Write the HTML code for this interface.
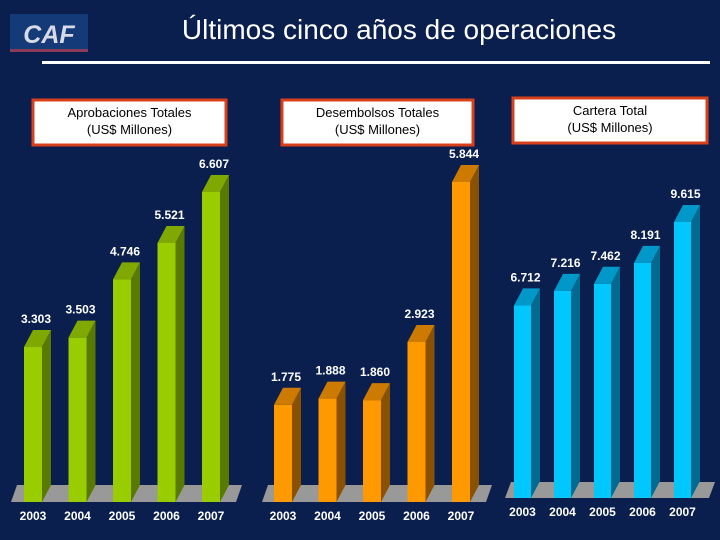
<!DOCTYPE html>
<html><head><meta charset="utf-8"><style>
html,body{margin:0;padding:0;background:#0b1f4f;}
svg{display:block;font-family:"Liberation Sans",sans-serif;}
</style></head><body>
<svg id="s" width="720" height="540" viewBox="0 0 720 540">
<rect x="0" y="0" width="720" height="540" fill="#0b1f4f"/>
<g>
<rect x="10" y="14" width="78" height="36" fill="#143a78"/>
<rect x="10" y="49" width="78" height="3" fill="#8a3a5a"/>
<text x="49" y="43" text-anchor="middle" font-size="25" font-weight="bold" font-style="italic" fill="#d8dbe6">CAF</text>
</g>
<text x="399" y="39" text-anchor="middle" font-size="28" fill="#ffffff">Últimos cinco años de operaciones</text>
<rect x="42" y="61" width="668" height="3" fill="#ffffff"/>
<g id="charts"></g>
</svg>
<script>
const years = ["2003","2004","2005","2006","2007"];
const aprobaciones = [3303,3503,4746,5521,6607];
const desembolsos = [1775,1888,1860,2923,5844];
const cartera = [6712,7216,7462,8191,9615];
const aprobLabels = ["3.303","3.503","4.746","5.521","6.607"];
const desembLabels = ["1.775","1.888","1.860","2.923","5.844"];
const carteraLabels = ["6.712","7.216","7.462","8.191","9.615"];

const NS="http://www.w3.org/2000/svg";
const root=document.getElementById('charts');
function mk(tag,attrs,parent){const e=document.createElementNS(NS,tag);for(const k in attrs)e.setAttribute(k,attrs[k]);(parent||root).appendChild(e);return e;}

const panels=[
 {name:'aprobaciones',vals:aprobaciones,labels:aprobLabels,title:['Aprobaciones Totales','(US$ Millones)'],box:[33,100,193,45],
  x0:24,step:44.5,bw:18,base:502,scale:310/6607,front:'#9acd00',side:'#587a00',top:'#7fa800',floor:[11,485,242,502],yearY:520},
 {name:'desembolsos',vals:desembolsos,labels:desembLabels,title:['Desembolsos Totales','(US$ Millones)'],box:[282,100,191,45],
  x0:274,step:44.5,bw:18,base:502,scale:320/5844,front:'#ff9900',side:'#8a5200',top:'#cc7a00',floor:[262,485,492,502],yearY:520},
 {name:'cartera',vals:cartera,labels:carteraLabels,title:['Cartera Total','(US$ Millones)'],box:[513,98,194,45],
  x0:514,step:40,bw:17,base:498,scale:276/9615,front:'#00c8ff',side:'#006a90',top:'#0098c8',floor:[505,482,715,498],yearY:516}
];
panels.forEach(p=>{
  const g=mk('g',{});
  
  
  const b=p.box;
  const bx=mk('rect',{x:b[0],y:b[1],width:b[2],height:b[3],fill:'#ffffff',stroke:'#d8401c','stroke-width':3},g);
  
  
  p.title.forEach((t,i)=>{
    const tx=mk('text',{x:b[0]+b[2]/2,y:b[1]+17+i*17,'text-anchor':'middle','font-size':13,fill:'#000'},g);
    tx.textContent=t;
    
    
  });
  const f=p.floor, dx=9, dy=17;
  const fl=mk('polygon',{points:`${f[0]+6},${f[1]} ${f[2]},${f[1]} ${f[2]-6},${f[3]} ${f[0]},${f[3]}`,fill:'#999999'},g);
  
  
  p.vals.forEach((v,i)=>{
    const x=p.x0+i*p.step, h=v*p.scale, y=p.base-h;
    const bar=mk('g',{},g);
    
    
    mk('polygon',{points:`${x+p.bw},${y} ${x+p.bw+dx},${y-dy} ${x+p.bw+dx},${p.base-dy} ${x+p.bw},${p.base}`,fill:p.side},bar);
    mk('polygon',{points:`${x},${y} ${x+dx},${y-dy} ${x+p.bw+dx},${y-dy} ${x+p.bw},${y}`,fill:p.top},bar);
    mk('rect',{x:x,y:y,width:p.bw,height:h,fill:p.front},bar);
    const lb=mk('text',{x:x+p.bw/2+3,y:y-24,'text-anchor':'middle','font-size':12,'font-weight':'bold',fill:'#ffffff'},g);
    lb.textContent=p.labels[i];
    
    
    const yr=mk('text',{x:x+p.bw/2,y:p.yearY,'text-anchor':'middle','font-size':12,'font-weight':'bold',fill:'#ffffff'},g);
    yr.textContent=years[i];
    
    
  });
});
</script>
</body></html>
